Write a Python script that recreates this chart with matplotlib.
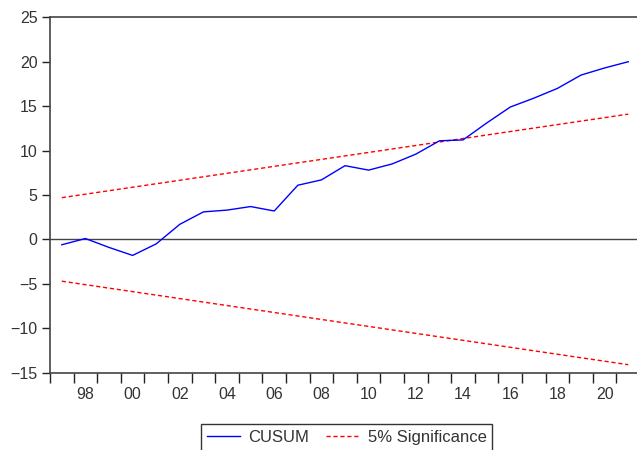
import matplotlib
matplotlib.use('Agg')
import matplotlib.pyplot as plt

plt.rcParams['font.family'] = ['Liberation Sans', 'DejaVu Sans']

# CUSUM statistic, one value per year (1997-2021)
years = list(range(1997, 2022))
cusum = [-0.6, 0.1, -0.9, -1.8, -0.5, 1.7, 3.1, 3.3, 3.7, 3.2,
         6.1, 6.7, 8.3, 7.8, 8.5, 9.6, 11.1, 11.2, 13.1, 14.9,
         15.9, 17.0, 18.5, 19.3, 20.0]

# 5% significance bounds (straight lines, first and last year)
band_years = [1997, 2021]
upper = [4.7, 14.1]
lower = [-4.7, -14.1]

y_ticks = [-15, -10, -5, 0, 5, 10, 15, 20, 25]
x_labels = ['98', '00', '02', '04', '06', '08', '10', '12', '14', '16', '18', '20']
label_years = list(range(1998, 2021, 2))

fig = plt.figure(figsize=(6.37, 4.5), dpi=100)
ax = fig.add_axes([50 / 637, 1 - 372.7 / 450, 587 / 637, (372.7 - 17.3) / 450])

# observations sit in the middle of each year
xc = [y + 0.5 for y in years]
bx = [y + 0.5 for y in band_years]

ax.axhline(0, color='#444444', lw=1.0, zorder=1)
ax.plot(xc, cusum, color='#0000ff', lw=1.0, label='CUSUM', zorder=3)
ax.plot(bx, upper, color='#ff0000', lw=1.0, ls=(0, (3, 2)), label='5% Significance', zorder=2)
ax.plot(bx, lower, color='#ff0000', lw=1.0, ls=(0, (3, 2)), zorder=2)

ax.set_ylim(-15, 25)
ax.set_yticks(y_ticks)
ax.set_xlim(1997, 2021.87)

# year boundaries get the tick marks, labels go in the middle
ax.set_xticks(range(1997, 2022))
ax.set_xticklabels([])
ax.set_xticks([y + 0.5 for y in label_years], minor=True)
ax.set_xticklabels(x_labels, minor=True)
ax.tick_params(axis='x', which='major', direction='out', length=7, width=1, color='#222222')
ax.tick_params(axis='x', which='minor', length=0, pad=10, labelsize=11.5, labelcolor='#333333')
ax.tick_params(axis='y', direction='out', length=6, width=1, color='#222222',
               labelsize=11.5, labelcolor='#333333', pad=3)

for side in ['left', 'bottom', 'top']:
    ax.spines[side].set_color('#444444')
    ax.spines[side].set_linewidth(1.2)
ax.spines['right'].set_visible(False)

leg = fig.legend(loc='upper center', bbox_to_anchor=(346.5 / 637, 1 - 424 / 450), ncol=2,
                 frameon=True, fancybox=False, edgecolor='black', fontsize=12,
                 handlelength=2.0, columnspacing=1.0, borderpad=0.35, handletextpad=0.5,
                 borderaxespad=0)
leg.get_frame().set_linewidth(1.0)
for t in leg.get_texts():
    t.set_color('#333333')

fig.savefig('out.png', dpi=100)
